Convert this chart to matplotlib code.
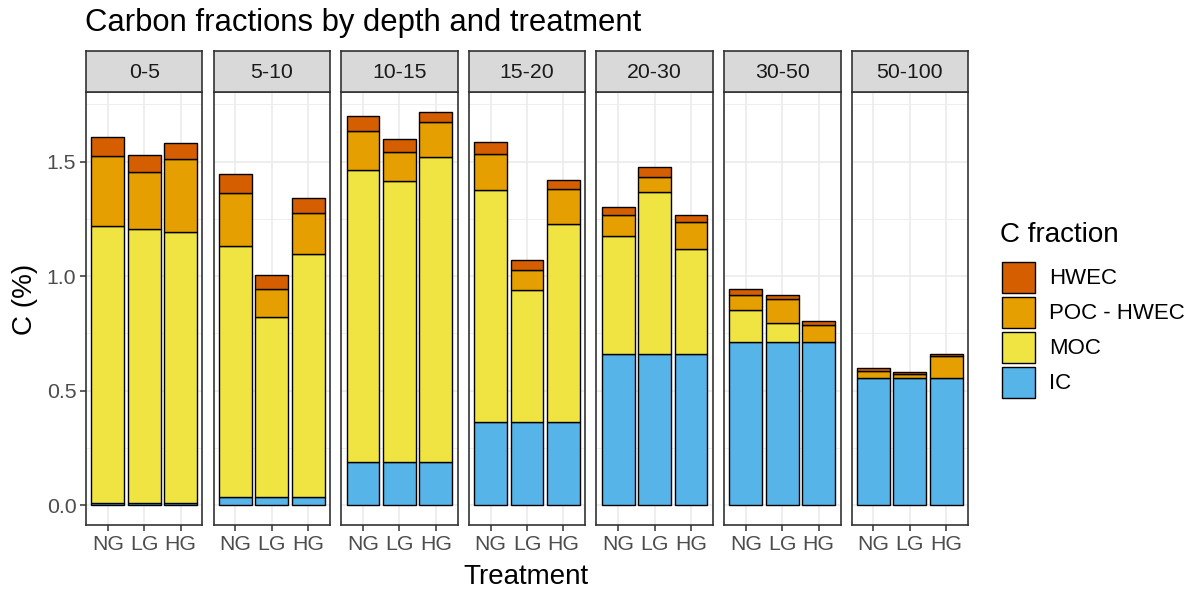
import matplotlib
matplotlib.use("Agg")
import matplotlib.pyplot as plt
from matplotlib.patches import Rectangle
from matplotlib.ticker import MultipleLocator

plt.rcParams["font.family"] = ["Liberation Sans", "DejaVu Sans"]

depths = ["0-5", "5-10", "10-15", "15-20", "20-30", "30-50", "50-100"]
treatments = ["NG", "LG", "HG"]
fractions = ["IC", "MOC", "POC - HWEC", "HWEC"]
colors = {"HWEC": "#D55E00", "POC - HWEC": "#E69F00", "MOC": "#F0E442", "IC": "#56B4E9"}

# inorganic carbon is the same for every treatment within a depth
ic = [0.010, 0.038, 0.190, 0.365, 0.660, 0.714, 0.554]

# per-treatment fraction values, one entry per depth
moc = {
    "NG": [1.207, 1.092, 1.273, 1.010, 0.516, 0.138, 0.000],
    "LG": [1.194, 0.786, 1.225, 0.575, 0.708, 0.080, 0.000],
    "HG": [1.185, 1.060, 1.331, 0.865, 0.457, 0.000, 0.000],
}
poc_hwec = {
    "NG": [0.308, 0.235, 0.170, 0.160, 0.093, 0.067, 0.033],
    "LG": [0.250, 0.120, 0.126, 0.088, 0.067, 0.105, 0.017],
    "HG": [0.318, 0.177, 0.152, 0.151, 0.119, 0.073, 0.098],
}
hwec = {
    "NG": [0.082, 0.083, 0.067, 0.051, 0.032, 0.026, 0.012],
    "LG": [0.074, 0.061, 0.058, 0.042, 0.042, 0.019, 0.009],
    "HG": [0.069, 0.067, 0.045, 0.041, 0.033, 0.018, 0.008],
}

W, H = 1194, 590
fig = plt.figure(figsize=(W / 100, H / 100), dpi=100)
fig.patch.set_facecolor("white")


def box(x0, y0, x1, y1):
    """Pixel box (top-left origin) -> figure fraction rect."""
    return [x0 / W, 1 - y1 / H, (x1 - x0) / W, (y1 - y0) / H]


panel_left = 86.0
panel_step = 127.6
panel_w = 116.5
plot_top, plot_bot = 92.0, 525.0
strip_top = 50.5

ymin, ymax = -0.0859, 1.804
grid_col = "#EBEBEB"
border_col = "#333333"
tick_size = 15.3

for i, depth in enumerate(depths):
    x0 = panel_left + i * panel_step
    ax = fig.add_axes(box(x0, plot_top, x0 + panel_w, plot_bot))
    ax.set_xlim(0.4, 3.6)
    ax.set_ylim(ymin, ymax)
    ax.set_facecolor("white")
    ax.yaxis.set_major_locator(MultipleLocator(0.5))
    ax.yaxis.set_minor_locator(MultipleLocator(0.25))
    ax.set_xticks([1, 2, 3])
    ax.set_xticklabels(treatments)
    ax.grid(True, which="major", color=grid_col, linewidth=1.2, zorder=0)
    ax.grid(True, which="minor", axis="y", color=grid_col, linewidth=0.6, zorder=0)
    ax.set_axisbelow(True)

    for j, t in enumerate(treatments):
        parts = [ic[i], moc[t][i], poc_hwec[t][i], hwec[t][i]]
        bottom = 0.0
        for name, val in zip(fractions, parts):
            if val > 0:
                ax.bar(j + 1, val, width=0.9, bottom=bottom, color=colors[name],
                       edgecolor="black", linewidth=1.0, zorder=3)
            bottom += val

    for sp in ax.spines.values():
        sp.set_color(border_col)
        sp.set_linewidth(1.2)
        sp.set_zorder(5)

    ax.tick_params(axis="both", which="major", length=4.5, width=1.1, color=border_col,
                   labelsize=tick_size, labelcolor="#4D4D4D", pad=2.5)
    ax.tick_params(axis="y", which="minor", length=0)
    if i > 0:
        ax.tick_params(axis="y", which="major", left=False, labelleft=False)
    else:
        ax.set_yticks([0, 0.5, 1.0, 1.5])
        ax.set_yticklabels(["0.0", "0.5", "1.0", "1.5"])

    # facet strip
    sax = fig.add_axes(box(x0, strip_top, x0 + panel_w, plot_top))
    sax.set_facecolor("#D9D9D9")
    sax.set_xticks([])
    sax.set_yticks([])
    for sp in sax.spines.values():
        sp.set_color(border_col)
        sp.set_linewidth(1.2)
    sax.text(0.5, 0.48, depth, ha="center", va="center", fontsize=tick_size,
             color="#1A1A1A", transform=sax.transAxes)

fig.text(85 / W, 1 - 23.5 / H, "Carbon fractions by depth and treatment",
         ha="left", va="center", fontsize=22.3, color="black")
fig.text(526 / W, 1 - 577 / H, "Treatment", ha="center", va="center",
         fontsize=20, color="black")
fig.text(25 / W, 1 - 299 / H, "C (%)", ha="center", va="center", rotation=90,
         fontsize=20, color="black")

# legend
fig.text(1000.5 / W, 1 - 235 / H, "C fraction", ha="left", va="center",
         fontsize=20, color="black")
legend_order = ["HWEC", "POC - HWEC", "MOC", "IC"]
key_top = 261.7
key_step = 35.0
for k, name in enumerate(legend_order):
    y0 = key_top + k * key_step
    fig.patches.append(Rectangle((1001.5 / W, 1 - (y0 + 31.6) / H), 33 / W, 31.6 / H,
                                 transform=fig.transFigure, facecolor=colors[name],
                                 edgecolor="black", linewidth=1.0))
    fig.text(1049 / W, 1 - (y0 + 16.5) / H, name, ha="left", va="center",
             fontsize=16, color="black")

fig.savefig("out.png", dpi=100, facecolor="white")
